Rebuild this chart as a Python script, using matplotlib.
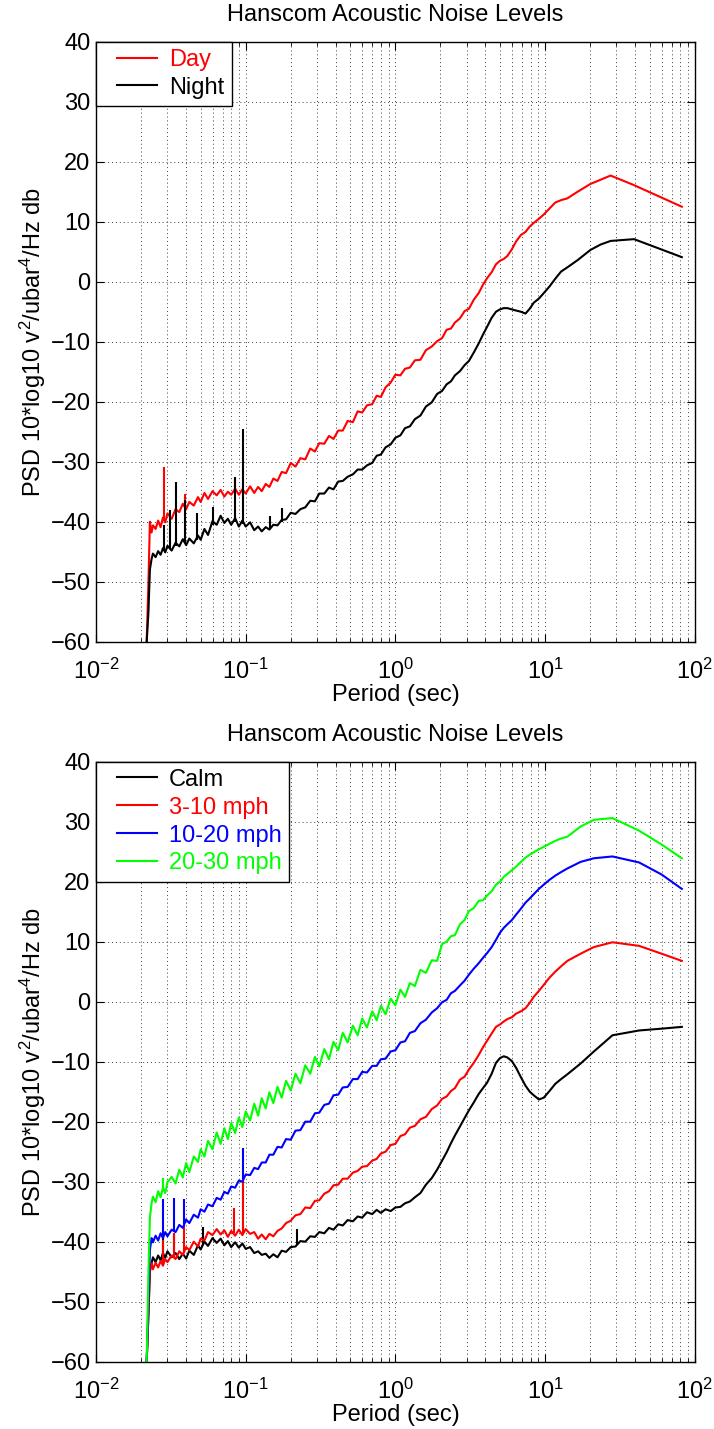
import numpy as np
import matplotlib
matplotlib.use("Agg")
import matplotlib.pyplot as plt
from matplotlib.ticker import LogLocator, MultipleLocator, NullFormatter
from matplotlib.legend_handler import HandlerLine2D
from matplotlib.lines import Line2D

plt.rcParams['font.family'] = ['Liberation Sans', 'DejaVu Sans']
plt.rcParams['mathtext.fontset'] = 'custom'
plt.rcParams['mathtext.rm'] = 'Liberation Sans'
plt.rcParams['mathtext.it'] = 'Liberation Sans'
plt.rcParams['mathtext.bf'] = 'Liberation Sans'

TITLE = "Hanscom Acoustic Noise Levels"
XLABEL = "Period (sec)"
YLABEL = "PSD 10*log10 v$^2$/ubar$^4$/Hz db"

# ---------------- top panel: Day / Night ----------------
top_period = [0.0218, 0.0224, 0.0229, 0.0235, 0.024, 0.025, 0.026, 0.027, 0.028, 0.029,
              0.030, 0.032, 0.034, 0.036, 0.038, 0.040, 0.042, 0.045, 0.048, 0.050,
              0.053, 0.056, 0.060, 0.064, 0.068, 0.072, 0.076, 0.080, 0.085, 0.090,
              0.095, 0.100, 0.107, 0.114, 0.121, 0.128, 0.136, 0.144, 0.153, 0.163,
              0.174, 0.186, 0.200, 0.215, 0.232, 0.250, 0.270, 0.290, 0.310, 0.335,
              0.360, 0.386, 0.415, 0.445, 0.480, 0.520, 0.560, 0.600, 0.646, 0.700,
              0.750, 0.800, 0.860, 0.930, 1.00, 1.08, 1.16, 1.25, 1.35, 1.47,
              1.60, 1.75, 1.90, 2.05, 2.20, 2.35, 2.50, 2.70, 2.90, 3.10,
              3.34, 3.60, 3.85, 4.10, 4.40, 4.70, 5.00, 5.30, 5.60, 6.00,
              6.40, 6.90, 7.40, 7.90, 8.40, 9.10, 9.80, 10.7, 11.7, 12.8,
              14.1, 16.5, 20.1, 23.5, 27.4, 39.3, 82.0]

day_psd = [-60, -50, -40.0, -41.8, -40.6, -41.2, -39.8, -40.9, -39.3, -40.1,
           -38.6, -39.5, -37.9, -38.4, -37.0, -37.9, -36.7, -37.3, -35.9, -36.7,
           -35.2, -36.2, -34.9, -35.6, -34.7, -35.8, -35.0, -35.5, -34.5, -35.5,
           -34.6, -35.3, -34.1, -35.2, -34.2, -34.9, -33.7, -34.2, -32.8, -33.2,
           -31.7, -31.9, -30.2, -30.8, -29.4, -29.6, -27.8, -28.3, -26.9, -27.0,
           -25.7, -26.2, -24.8, -24.8, -23.2, -23.4, -21.6, -21.8, -20.6, -20.4,
           -19.0, -19.2, -17.6, -16.8, -15.5, -15.6, -14.5, -14.3, -13.1, -13.0,
           -11.4, -10.8, -9.9, -9.4, -8.0, -7.8, -6.8, -6.1, -4.9, -4.5,
           -3.0, -1.9, -0.5, 0.6, 1.6, 2.9, 3.5, 3.8, 4.3, 5.4,
           6.7, 7.8, 8.3, 9.2, 9.8, 10.5, 11.2, 12.2, 13.2, 13.6,
           13.9, 15.0, 16.3, 17.0, 17.7, 16.1, 12.5]

night_psd = [-60, -55, -48, -46.2, -45.3, -45.9, -44.9, -45.5, -44.4, -45.1,
             -44.0, -44.8, -43.5, -44.1, -42.9, -43.9, -42.8, -43.6, -42.3, -43.0,
             -41.2, -42.2, -39.9, -40.5, -39.0, -40.2, -39.5, -40.5, -39.4, -40.8,
             -39.8, -40.8, -40.1, -41.4, -40.8, -41.6, -40.9, -41.3, -40.5, -40.6,
             -39.7, -39.6, -38.5, -38.7, -37.9, -37.6, -36.5, -36.6, -35.3, -35.3,
             -34.3, -34.6, -33.3, -33.2, -32.5, -32.1, -31.3, -31.3, -30.6, -30.2,
             -29.0, -28.8, -27.6, -27.1, -26.0, -25.6, -24.4, -24.1, -22.9, -22.3,
             -20.8, -20.1, -18.7, -18.2, -17.1, -16.6, -15.6, -14.9, -13.9, -13.2,
             -11.8, -10.3, -8.8, -7.5, -6.0, -5.0, -4.6, -4.4, -4.4, -4.6,
             -4.8, -5.0, -5.3, -4.5, -3.5, -2.8, -1.9, -0.8, 0.5, 1.7,
             2.4, 3.6, 5.3, 6.2, 6.8, 7.1, 4.1]

day_spike_period = [0.0286, 0.0394, 0.0850]
day_spike_low = [-39.5, -37.5, -35.1]
day_spike_high = [-30.8, -35.3, -32.8]

night_spike_period = [0.0286, 0.0312, 0.0343, 0.0394, 0.0470, 0.0600, 0.0850, 0.0966, 0.146, 0.175]
night_spike_low = [-44.8, -44.5, -44.1, -43.6, -43.0, -40.5, -40.1, -40.3, -41.1, -40.0]
night_spike_high = [-40.5, -38.0, -33.3, -36.4, -38.5, -37.5, -32.5, -24.6, -39.0, -37.7]

# ---------------- bottom panel: wind speed classes ----------------
bottom_period = [0.0218, 0.0224, 0.0229, 0.0235, 0.024, 0.025, 0.026, 0.027, 0.028, 0.029,
                 0.030, 0.032, 0.034, 0.036, 0.038, 0.040, 0.042, 0.045, 0.048, 0.050,
                 0.053, 0.056, 0.060, 0.064, 0.068, 0.072, 0.076, 0.080, 0.085, 0.090,
                 0.095, 0.100, 0.107, 0.114, 0.121, 0.128, 0.136, 0.144, 0.153, 0.163,
                 0.174, 0.186, 0.200, 0.215, 0.232, 0.250, 0.270, 0.290, 0.310, 0.335,
                 0.360, 0.386, 0.415, 0.445, 0.480, 0.520, 0.560, 0.600, 0.646, 0.700,
                 0.750, 0.800, 0.860, 0.930, 1.00, 1.08, 1.16, 1.25, 1.35, 1.47,
                 1.60, 1.75, 1.90, 2.05, 2.20, 2.35, 2.50, 2.70, 2.90, 3.10,
                 3.34, 3.60, 3.85, 4.10, 4.40, 4.70, 5.00, 5.30, 5.60, 6.00,
                 6.40, 6.90, 7.40, 7.90, 8.40, 9.10, 9.80, 10.7, 11.7, 12.8,
                 14.1, 17.3, 21.2, 28.2, 42.5, 60.0, 82.0]

calm_psd = [-60, -52, -45.0, -43.6, -42.6, -43.4, -42.3, -43.1, -41.9, -42.7,
            -41.6, -42.6, -41.9, -42.9, -42.0, -42.8, -41.5, -42.2, -40.6, -41.3,
            -40.0, -40.7, -39.4, -40.2, -39.5, -40.6, -39.9, -40.9, -40.1, -41.0,
            -40.3, -41.2, -40.9, -41.9, -41.6, -42.2, -42.0, -42.7, -42.1, -42.6,
            -41.5, -41.7, -40.9, -40.8, -39.9, -40.0, -39.1, -39.2, -38.4, -38.6,
            -37.7, -38.0, -37.1, -37.3, -36.4, -36.6, -35.8, -36.0, -35.1, -35.4,
            -34.7, -35.2, -34.6, -34.9, -34.3, -34.2, -33.6, -33.3, -32.6, -31.9,
            -30.5, -29.4, -28.0, -26.5, -25.1, -23.6, -22.3, -20.8, -19.4, -18.1,
            -16.8, -15.4, -14.4, -13.5, -12.0, -10.2, -9.4, -9.1, -9.3, -9.9,
            -11.0, -12.6, -14.0, -15.0, -15.6, -16.3, -16.0, -14.9, -13.7, -12.9,
            -12.1, -10.3, -8.3, -5.6, -4.8, -4.5, -4.2]

mph3_10_psd = [-60, -52, -44.5, -43.6, -44.6, -43.5, -44.3, -43.2, -44.0, -42.9,
               -43.4, -42.3, -42.9, -41.6, -42.2, -40.9, -41.4, -40.0, -40.8, -39.5,
               -39.8, -38.4, -38.9, -37.9, -38.8, -38.1, -39.2, -38.2, -39.0, -38.0,
               -38.9, -37.9, -38.7, -38.4, -39.5, -38.8, -39.6, -38.7, -39.1, -38.2,
               -37.8, -36.9, -36.5, -35.6, -35.4, -34.3, -34.4, -33.2, -33.1, -32.0,
               -31.6, -30.6, -30.5, -29.5, -29.5, -28.5, -28.2, -27.5, -27.4, -26.5,
               -26.2, -25.3, -25.0, -23.9, -23.7, -22.4, -22.1, -21.0, -20.7, -19.6,
               -19.2, -17.9, -17.3, -16.2, -15.8, -14.9, -14.4, -13.0, -12.5, -11.3,
               -10.2, -8.9, -7.6, -6.5, -5.3, -4.2, -3.8, -3.3, -2.9, -2.6,
               -2.0, -1.6, -1.1, -0.2, 0.8, 1.8, 2.8, 4.0, 5.0, 5.9,
               6.8, 8.0, 9.1, 9.9, 9.3, 8.0, 6.8]

mph10_20_psd = [-60, -50, -41.4, -39.4, -40.1, -39.0, -39.8, -38.6, -39.4, -38.4,
                -39.1, -38.0, -38.4, -37.2, -37.7, -36.3, -36.9, -35.5, -36.0, -34.6,
                -35.0, -33.8, -34.1, -32.7, -33.0, -31.7, -32.0, -30.8, -31.0, -29.8,
                -30.0, -28.8, -28.9, -27.7, -27.9, -26.8, -26.8, -25.5, -25.5, -24.2,
                -24.3, -22.9, -23.0, -21.5, -21.4, -20.0, -20.0, -18.6, -18.5, -17.2,
                -17.0, -15.6, -15.5, -14.3, -14.2, -12.9, -12.9, -11.7, -11.8, -10.7,
                -10.7, -9.6, -9.5, -8.3, -8.1, -6.8, -6.6, -5.2, -4.9, -3.6,
                -3.0, -1.8, -1.1, -0.1, 0.3, 1.4, 1.8, 2.7, 3.5, 4.5,
                5.5, 6.4, 7.3, 8.1, 9.1, 10.3, 11.5, 12.3, 12.9, 13.6,
                14.5, 15.5, 16.5, 17.2, 17.9, 18.8, 19.5, 20.3, 21.0, 21.6,
                22.2, 23.3, 23.9, 24.2, 23.2, 21.2, 18.8]

mph20_30_psd = [-60, -45, -36, -33.6, -32.5, -33.4, -31.6, -32.6, -31.0, -31.9,
                -30.1, -29.2, -30.3, -28.0, -29.3, -26.9, -28.4, -25.8, -26.7, -24.6,
                -25.8, -23.2, -24.6, -21.8, -23.7, -21.1, -22.9, -20.2, -21.9, -19.3,
                -20.9, -18.3, -19.8, -17.0, -19.0, -16.1, -17.8, -15.1, -16.9, -14.2,
                -16.0, -13.2, -14.8, -12.0, -13.6, -10.6, -12.0, -9.2, -10.8, -7.9,
                -9.6, -6.7, -8.1, -5.2, -6.8, -4.0, -5.6, -2.8, -4.3, -1.6,
                -3.1, -0.7, -2.1, 0.5, -0.6, 2.0, 0.8, 3.1, 2.6, 5.3,
                4.8, 6.9, 6.8, 9.6, 10.0, 10.9, 11.1, 12.9, 13.6, 15.1,
                15.6, 16.8, 16.9, 17.7, 18.4, 19.5, 20.0, 20.8, 21.3, 21.9,
                22.5, 23.3, 24.0, 24.5, 24.9, 25.4, 25.8, 26.3, 26.8, 27.2,
                27.5, 29.2, 30.3, 30.6, 28.5, 26.2, 23.9]

calm_spike_period = [0.0282, 0.0333, 0.052, 0.22]
calm_spike_low = [-42.5, -42.5, -40.5, -40.5]
calm_spike_high = [-39.0, -38.5, -37.6, -37.9]

mph3_10_spike_period = [0.0282, 0.0333, 0.0388, 0.0841, 0.0957]
mph3_10_spike_low = [-44.0, -42.8, -41.9, -38.5, -38.7]
mph3_10_spike_high = [-39.7, -38.6, -37.2, -34.4, -29.2]

mph10_20_spike_period = [0.0282, 0.0333, 0.0388, 0.0957]
mph10_20_spike_low = [-39.4, -38.2, -37.0, -29.6]
mph10_20_spike_high = [-32.9, -32.8, -32.9, -24.4]

mph20_30_spike_period = [0.0282]
mph20_30_spike_low = [-31.3]
mph20_30_spike_high = [-29.4]

FS = 17
LW = 1.5

fig = plt.figure(figsize=(7.14, 14.29), dpi=100)
ax_top = fig.add_axes([0.1345, 0.5509, 0.8385, 0.4199])
ax_bot = fig.add_axes([0.1345, 0.0471, 0.8385, 0.4199])


def style(ax):
    ax.set_xscale('log')
    ax.set_xlim(1e-2, 1e2)
    ax.set_ylim(-60, 40)
    ax.yaxis.set_major_locator(MultipleLocator(10))
    ax.xaxis.set_major_locator(LogLocator(base=10, numticks=10))
    ax.xaxis.set_minor_locator(LogLocator(base=10, subs=np.arange(2, 10), numticks=20))
    ax.xaxis.set_minor_formatter(NullFormatter())
    ax.grid(True, which='major', axis='both', linestyle=(0, (1, 3)), color='0.25', linewidth=0.7)
    ax.grid(True, which='minor', axis='x', linestyle=(0, (1, 3)), color='0.25', linewidth=0.7)
    ax.tick_params(which='both', direction='in', top=True, right=True, labelsize=FS)
    ax.tick_params(axis='x', which='major', pad=12)
    ax.tick_params(axis='y', which='major', pad=4)
    ax.tick_params(which='major', length=6, width=0.8)
    ax.tick_params(which='minor', length=3, width=0.6)
    for s in ax.spines.values():
        s.set_linewidth(1.0)
    ax.set_title(TITLE, fontsize=FS, pad=15)
    ax.set_xlabel(XLABEL, fontsize=FS, labelpad=0)
    ax.set_ylabel(YLABEL, fontsize=FS, labelpad=2)


def legend(ax):
    handler = HandlerLine2D(xpad=0.6)
    leg = ax.legend(loc='upper left', borderaxespad=0, fancybox=False, edgecolor='black',
                    framealpha=1, fontsize=FS, labelcolor='linecolor', handlelength=2.3,
                    handletextpad=0.5, borderpad=0.3, labelspacing=0.25,
                    handler_map={Line2D: handler})
    leg.get_frame().set_linewidth(1.0)


# top
ax_top.plot(top_period, day_psd, color='red', lw=LW, label='Day')
ax_top.vlines(day_spike_period, day_spike_low, day_spike_high, color='red', lw=LW)
ax_top.plot(top_period, night_psd, color='black', lw=LW, label='Night')
ax_top.vlines(night_spike_period, night_spike_low, night_spike_high, color='black', lw=LW)
style(ax_top)
legend(ax_top)

# bottom
ax_bot.plot(bottom_period, calm_psd, color='black', lw=LW, label='Calm')
ax_bot.vlines(calm_spike_period, calm_spike_low, calm_spike_high, color='black', lw=LW)
ax_bot.plot(bottom_period, mph3_10_psd, color='red', lw=LW, label='3-10 mph')
ax_bot.vlines(mph3_10_spike_period, mph3_10_spike_low, mph3_10_spike_high, color='red', lw=LW)
ax_bot.plot(bottom_period, mph10_20_psd, color='blue', lw=LW, label='10-20 mph')
ax_bot.vlines(mph10_20_spike_period, mph10_20_spike_low, mph10_20_spike_high, color='blue', lw=LW)
ax_bot.plot(bottom_period, mph20_30_psd, color='#00ff00', lw=LW, label='20-30 mph')
ax_bot.vlines(mph20_30_spike_period, mph20_30_spike_low, mph20_30_spike_high, color='#00ff00', lw=LW)
style(ax_bot)
legend(ax_bot)

fig.savefig('out.png', dpi=100)
